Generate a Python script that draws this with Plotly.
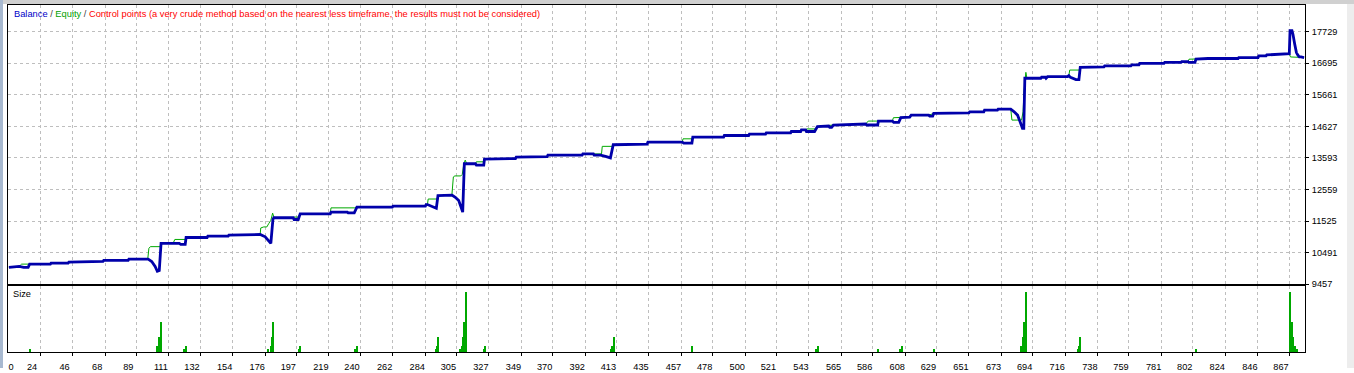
import plotly.graph_objects as go

# ---------------- data ----------------
x_tick_labels = [24, 46, 68, 89, 111, 132, 154, 176, 197, 219, 240, 262, 284, 305, 327, 349,
                 370, 392, 413, 435, 457, 478, 500, 521, 543, 565, 586, 608, 629, 651, 673,
                 694, 716, 738, 759, 781, 802, 824, 846, 867]
y_tick_labels = [9457, 10491, 11525, 12559, 13593, 14627, 15661, 16695, 17729]

balance_t = [3, 10, 13, 16, 17, 31, 31.5, 43, 43.5, 58, 58.5, 66.5, 67, 83.5, 84, 97, 99.4, 101.7,
             103.2, 104.5, 105.7, 113.8, 118, 119, 122, 122.6, 136.8, 137.3, 151, 151.5, 163.8,
             164.3, 172.6, 176, 178.2, 179.8, 181.2, 181.8, 194.9, 195.5, 198.3, 199.6, 219.9,
             220.4, 231.4, 232, 236.1, 237.9, 261.8, 262.3, 284.1, 284.6, 285.5, 287.4, 289.7,
             291.5, 292.6, 302.1, 304.3, 306.6, 308.2, 309.3, 310.4, 317.9, 318.5, 323.5, 324,
             335, 344.9, 345.4, 356.1, 356.6, 366.3, 366.8, 389.9, 390.4, 397.5, 398, 402.3,
             405.7, 409, 410.9, 433.8, 434.3, 457.5, 458.5, 464, 464.6, 485.4, 485.9, 502.3,
             502.8, 513.7, 514.2, 530.6, 531.1, 537.4, 537.9, 540.8, 541.3, 546.8, 548.7, 556.3,
             557, 558.3, 559.5, 581.3, 582, 589.4, 589.9, 599.3, 600.2, 603.6, 605, 611, 612,
             623.8, 624.5, 626.5, 627.2, 651, 651.5, 661, 661.5, 670.2, 670.7, 679.2, 681.5,
             683.8, 685.5, 687.1, 688, 688.7, 699.5, 700, 702.5, 703, 704, 717.5, 718.4, 719.5,
             723.2, 725.2, 726.1, 742.1, 742.6, 760.3, 761, 765.7, 766.2, 782.6, 783.1, 794.1,
             794.6, 798.8, 799.3, 803.5, 804.2, 812.3, 832.6, 833.1, 846.1, 846.6, 851.5, 852,
             867.2, 867.7, 869, 869.7, 870.9, 872, 873.1, 874, 875.1, 877.2]
balance_v = [10006, 10039, 10006, 10006, 10113, 10113, 10145, 10145, 10178, 10178, 10200, 10200,
             10233, 10233, 10275, 10275, 10200, 10039, 9877, 9900, 10792, 10792, 10792, 10760,
             10760, 10985, 10985, 11030, 11030, 11063, 11063, 11082, 11082, 11008, 10901, 10792,
             11580, 11631, 11631, 11574, 11574, 11761, 11761, 11816, 11816, 11790, 11790, 11977,
             11977, 12009, 12009, 12064, 12064, 12032, 11977, 11945, 12355, 12375, 12301, 12193,
             11977, 11816, 13400, 13400, 13357, 13357, 13550, 13560, 13570, 13616, 13616, 13635,
             13635, 13680, 13680, 13722, 13722, 13680, 13680, 13640, 13593, 14023, 14045, 14110,
             14110, 14078, 14078, 14272, 14272, 14326, 14326, 14368, 14368, 14410, 14410, 14456,
             14456, 14507, 14507, 14456, 14456, 14617, 14637, 14595, 14595, 14669, 14701, 14669,
             14669, 14798, 14798, 14756, 14756, 14908, 14927, 14992, 14992, 14960, 14960, 15047,
             15069, 15102, 15102, 15154, 15154, 15186, 15186, 15102, 14992, 14779, 14563, 14563,
             16201, 16201, 16233, 16233, 16201, 16252, 16252, 16285, 16230, 16155, 16155, 16556,
             16575, 16608, 16608, 16640, 16640, 16685, 16685, 16718, 16718, 16743, 16743, 16718,
             16718, 16824, 16847, 16847, 16879, 16879, 16931, 16931, 16963, 17008, 17761, 17761,
             17633, 17309, 17041, 16950, 16898, 16898, 16879]

equity_t = [3, 10, 11.6, 31, 31.5, 43, 43.5, 58, 58.5, 66.5, 67, 83.5, 84, 96.7, 97.5, 98.5, 105.2,
            105.7, 113.8, 115, 122, 122.6, 136.8, 137.3, 151, 151.5, 163.8, 164.3, 172.6, 173,
            175, 177.1, 178.5, 179.8, 181, 182, 194.9, 195.5, 198.3, 199.6, 219.9, 220.4, 236.5,
            237.9, 261.8, 262.3, 284.1, 284.6, 285.5, 286, 292, 292.6, 302, 303, 304, 308, 309,
            310, 311, 312, 317.9, 318.5, 323.5, 324, 335, 344.9, 345.4, 356.1, 356.6, 366.3,
            366.8, 389.9, 390.4, 403, 403.5, 410.5, 410.9, 433.8, 434.3, 457.5, 458, 464, 464.6,
            485.4, 485.9, 502.3, 502.8, 513.7, 514.2, 530.6, 531.1, 537.4, 537.9, 541, 541.5,
            548, 548.7, 556.3, 559.5, 581.3, 583, 599.3, 600, 611, 612, 623.8, 627.2, 651, 651.5,
            661, 661.5, 670.2, 670.7, 679.2, 680, 686.5, 687.5, 688.2, 689.4, 690.1, 699.5, 700,
            702.5, 704, 717.5, 718.4, 719, 725.5, 726.1, 742.1, 742.6, 760.3, 761, 765.7, 766.2,
            782.6, 783.1, 794.1, 794.6, 798.8, 799.5, 812.3, 832.6, 833.1, 846.1, 846.6, 851.5,
            852, 867.2, 868, 877.2]
equity_v = [10006, 10039, 10113, 10113, 10145, 10145, 10178, 10178, 10200, 10200, 10233, 10233,
            10275, 10275, 10629, 10685, 10685, 10792, 10792, 10921, 10921, 10985, 10985, 11030,
            11030, 11063, 11063, 11082, 11082, 11297, 11331, 11331, 11450, 11547, 11783, 11631,
            11631, 11654, 11654, 11761, 11761, 11955, 11955, 11977, 11977, 12009, 12009, 12064,
            12064, 12245, 12245, 12355, 12375, 12969, 13001, 13001, 13050, 13377, 13519, 13400,
            13400, 13464, 13464, 13550, 13560, 13570, 13616, 13616, 13635, 13635, 13680, 13680,
            13722, 13722, 13970, 13970, 14023, 14045, 14110, 14110, 14217, 14217, 14272, 14272,
            14326, 14326, 14368, 14368, 14410, 14410, 14456, 14456, 14507, 14507, 14540, 14540,
            14617, 14637, 14669, 14701, 14798, 14798, 14908, 14927, 14992, 14992, 15047, 15069,
            15102, 15102, 15154, 15154, 15186, 15186, 14830, 14830, 15102, 15800, 16394, 16201,
            16201, 16233, 16233, 16252, 16252, 16285, 16469, 16469, 16556, 16575, 16608, 16608,
            16640, 16640, 16685, 16685, 16718, 16718, 16743, 16743, 16824, 16847, 16847, 16879,
            16879, 16931, 16931, 16963, 17008, 16898, 16879]

size_t = [17, 103, 104, 106, 121.5, 122.6, 178.2, 179.6, 180.5, 181.6, 198.7, 199.8, 236.3, 237.7,
          291.3, 292, 292.9, 307.5, 308.6, 309.6, 310.5, 311.4, 323.5, 324.1, 409.5, 410.2, 411.3,
          463.8, 464.4, 548, 549.1, 589.6, 604.5, 605.8, 627.4, 686, 687.4, 688.2, 689.6, 724.3,
          725.2, 726.1, 804.4, 867.7, 869.1, 870, 871.3, 872.3]
size_v = [0.1, 0.2, 0.5, 1.0, 0.1, 0.2, 0.1, 0.2, 0.5, 1.0, 0.1, 0.2, 0.1, 0.2, 0.1, 0.2, 0.5, 0.1,
          0.2, 0.5, 1.0, 2.0, 0.1, 0.2, 0.1, 0.2, 0.5, 0.1, 0.2, 0.1, 0.2, 0.1, 0.1, 0.2, 0.1, 0.2,
          0.5, 1.0, 2.0, 0.1, 0.2, 0.5, 0.1, 2.0, 1.0, 0.5, 0.2, 0.1]

# ---------------- style ----------------
W, H = 1354, 373
FONT = "Liberation Sans, Arial, sans-serif"
FS = 9.2
BLUE = "#0000AA"
GREEN = "#00A800"
GRID = "#BEBEBE"
X_RANGE = [2.4, 877.8]


def px_x(p):
    return p / W


def px_y(p):
    return 1 - p / H


fig = go.Figure()
fig.add_trace(go.Scatter(x=equity_t, y=equity_v, mode="lines",
                         line=dict(color=GREEN, width=1), xaxis="x", yaxis="y",
                         hoverinfo="skip"))
fig.add_trace(go.Scatter(x=balance_t, y=balance_v, mode="lines",
                         line=dict(color=BLUE, width=2.8), xaxis="x", yaxis="y",
                         hoverinfo="skip"))
fig.add_trace(go.Bar(x=size_t, y=size_v, width=0.7, marker=dict(color=GREEN, line=dict(width=0)),
                     xaxis="x2", yaxis="y2", hoverinfo="skip"))
# empty trace so that the overlay axis carrying the "0" origin label gets drawn
fig.add_trace(go.Scatter(x=[None], y=[None], mode="lines", xaxis="x3", yaxis="y2",
                         hoverinfo="skip", showlegend=False))

axis_common = dict(showline=True, mirror=True, linecolor="black", linewidth=1, zeroline=False)
tick_font = dict(family=FONT, size=FS, color="black")

fig.update_layout(
    width=W, height=H, autosize=False,
    margin=dict(l=0, r=0, t=0, b=0),
    paper_bgcolor="white", plot_bgcolor="white",
    showlegend=False,
    font=dict(family=FONT, size=FS, color="black"),
    xaxis=dict(domain=[px_x(8), px_x(1305)], range=X_RANGE, anchor="y",
               tickvals=x_tick_labels, showticklabels=False, ticks="",
               showgrid=True, gridcolor=GRID, gridwidth=1, griddash="3px,3px",
               **axis_common),
    yaxis=dict(domain=[px_y(288), px_y(5)], range=[9457, 18602], anchor="x",
               side="right", tickvals=y_tick_labels,
               ticktext=[str(v) for v in y_tick_labels],
               ticks="outside", ticklen=3, tickcolor="black", ticklabelstandoff=1,
               showgrid=True, gridcolor=GRID, gridwidth=1, griddash="3px,3px",
               tickfont=tick_font, **axis_common),
    xaxis2=dict(domain=[px_x(8), px_x(1305)], range=X_RANGE, anchor="y2", matches="x",
                tickvals=x_tick_labels, ticktext=[str(v) for v in x_tick_labels],
                ticks="outside", ticklen=3, tickcolor="black", ticklabelshift=-8,
                ticklabelstandoff=3,
                showgrid=True, gridcolor=GRID, gridwidth=1, griddash="3px,3px",
                tickfont=tick_font, **axis_common),
    # overlay axis that only carries the origin label "0" near the left edge
    xaxis3=dict(domain=[px_x(8), px_x(1305)], range=X_RANGE, anchor="y2", overlaying="x2",
                tickvals=[X_RANGE[0] + 2], ticktext=["0"], ticks="outside", ticklen=3,
                tickcolor="rgba(0,0,0,0)", ticklabelstandoff=3,
                showgrid=False, showline=False, zeroline=False, tickfont=tick_font),
    yaxis2=dict(domain=[px_y(357), px_y(290)], range=[0, 2.2], anchor="x2",
                showticklabels=False, ticks="", showgrid=False, **axis_common),
    bargap=0,
)

# window chrome
fig.add_shape(type="rect", xref="paper", yref="paper", x0=0, x1=1, y0=px_y(4), y1=1,
              fillcolor="#D0D0D0", line=dict(width=0), layer="below")
fig.add_shape(type="rect", xref="paper", yref="paper", x0=0, x1=px_x(3), y0=0, y1=1,
              fillcolor="#A8B9D0", line=dict(width=0), layer="below")
fig.add_shape(type="rect", xref="paper", yref="paper", x0=px_x(1347), x1=1, y0=0, y1=px_y(4),
              fillcolor="#EDEDED", line=dict(width=0), layer="below")

legend_text = ("<span style='color:#0000C8'>Balance</span> / "
               "<span style='color:#00A000'>Equity</span> / "
               "<span style='color:#FF0000'>Control points (a very crude method based on the "
               "nearest less timeframe, the results must not be considered)</span>")
fig.add_annotation(text=legend_text, xref="paper", yref="paper", x=px_x(12), y=px_y(14),
                   xanchor="left", yanchor="middle", showarrow=False,
                   font=dict(family=FONT, size=FS + 0.1, color="#404040"))
fig.add_annotation(text="Size", xref="paper", yref="paper", x=px_x(11), y=px_y(298),
                   xanchor="left", yanchor="middle", showarrow=False,
                   font=dict(family=FONT, size=FS, color="black"))

fig.write_html("out.html")
